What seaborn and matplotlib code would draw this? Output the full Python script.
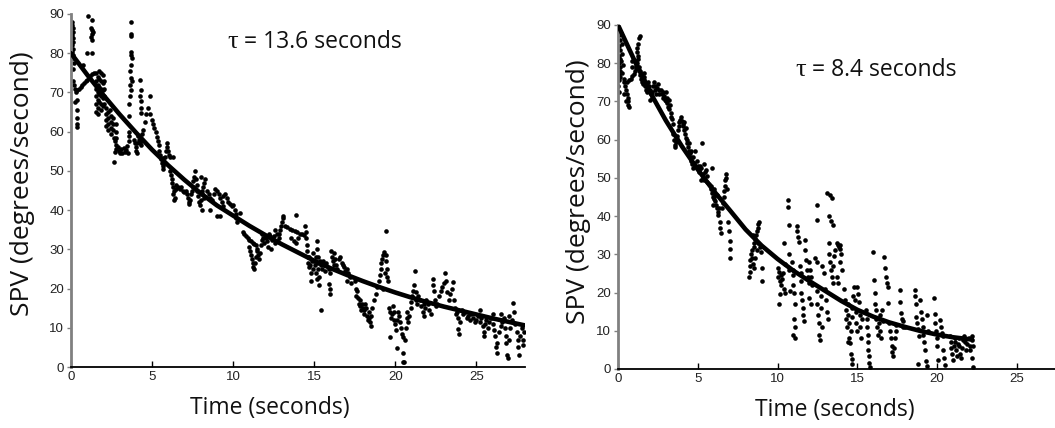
import matplotlib
matplotlib.use("Agg")
import matplotlib.pyplot as plt
import seaborn as sns
import pandas as pd

# ---------------- data ----------------
y_ticks = [0, 10, 20, 30, 40, 50, 60, 70, 80, 90]
x_ticks = [0, 5, 10, 15, 20, 25]
x_tick_labels = ["0", "5", "10", "15", "20", "25"]

left_tau_text = "= 13.6 seconds"
right_tau_text = "= 8.4 seconds"

left_fit_t = list(range(0, 29))
left_fit_v = [80, 74.5, 69.3, 64.4, 59.8, 55.4, 51.4, 47.7, 44.3, 41.2, 38.6, 36.0, 33.6, 31.3,
              29.2, 27.1, 25.2, 23.5, 21.9, 20.4, 19.0, 17.7, 16.5, 15.4, 14.4, 13.4, 12.4, 11.5, 10.6]

right_fit_t = [0, 1, 2, 3, 4, 5, 6, 7, 8, 9, 10, 11, 12, 13, 14, 15, 16, 17, 18, 19, 20, 21, 22.2]
right_fit_v = [90, 81.0, 72.5, 65.0, 58.3, 52.2, 46.6, 41.6, 36.5, 32.3, 28.8, 25.7, 23.0, 20.4,
               17.8, 15.5, 13.7, 12.2, 11.0, 9.9, 9.0, 8.3, 7.7]

left_samples = [
    (0.05, 88), (0.08, 87.2), (0.1, 86.4), (0.12, 85.5), (0.05, 84.6), (0.1, 83.8), (0.15, 82.9),
    (0.08, 82.0), (0.12, 81.2), (0.05, 80.4), (0.1, 79.6), (0.15, 78.8), (0.2, 77.6), (0.1, 76.0),
    (0.15, 73), (0.2, 72), (0.25, 71), (0.3, 70), (0.4, 70.5), (0.5, 71), (0.6, 71.4), (0.7, 71.8),
    (0.8, 72.3), (0.9, 72.8), (1.0, 73.2), (1.1, 73.7), (1.2, 74.1), (1.3, 74.6), (1.4, 75),
    (0.35, 68), (0.38, 65.5), (0.4, 63.5), (0.35, 62), (0.4, 61.3), (0.25, 67.5),
    (1.05, 89.5), (1.3, 88.5), (1.25, 86.5), (1.3, 86), (1.35, 85.5), (1.3, 85), (1.25, 84.2),
    (1.3, 83.4), (0.97, 80), (1.27, 80), (0.72, 77),
    (1.55, 75), (1.55, 73), (1.55, 71), (1.55, 69), (1.55, 67), (1.55, 65),
    (1.65, 74), (1.65, 72), (1.65, 70), (1.65, 68), (1.65, 66), (1.65, 64.5),
    (1.75, 75.5), (1.75, 73.5), (1.75, 71.5), (1.75, 69.5), (1.75, 67.5),
    (1.85, 75), (1.85, 73), (1.85, 71), (1.85, 69), (1.85, 67), (1.85, 65.5),
    (1.95, 74.5), (1.95, 72.5), (1.95, 70.5), (1.95, 68.5), (1.95, 66.5),
    (2.05, 73), (2.05, 71), (2.05, 69), (2.05, 67),
    (2.15, 66), (2.15, 64.5), (2.15, 63), (2.15, 61.5), (2.3, 65), (2.3, 63.5), (2.3, 62), (2.3, 60.5),
    (2.45, 64), (2.45, 62.5), (2.45, 61), (2.45, 59.5), (2.6, 63.5), (2.6, 62), (2.6, 60.5),
    (2.75, 62), (2.75, 60), (2.75, 58.5), (2.4, 65.6),
    (2.65, 58.5), (2.7, 57.5), (2.75, 56.5), (2.8, 55.5), (2.7, 54.8), (2.68, 52.3), (2.9, 56),
    (2.95, 55), (3.0, 54.6), (3.1, 55.5), (3.15, 54.6), (3.25, 55.8), (3.3, 54.7), (3.4, 55.2),
    (3.5, 54.5), (3.45, 56.3), (3.55, 57.5),
    (3.7, 88), (3.7, 85), (3.72, 84.5), (3.7, 80.4), (3.68, 79.6), (3.75, 78.8), (3.72, 77.1),
    (3.65, 75.4), (3.7, 73.6), (3.75, 72.8), (3.65, 71.9), (3.7, 70.7), (3.65, 69), (3.6, 67),
    (3.6, 64), (3.55, 60), (3.6, 59),
    (4.25, 73.2), (4.3, 70.7), (4.28, 69), (4.3, 67.8), (4.32, 66.1), (4.3, 64.8), (4.86, 69.0),
    (3.9, 58), (3.95, 57), (4.0, 56), (4.0, 55), (4.05, 54.5), (4.1, 57), (4.15, 59), (4.2, 58),
    (4.25, 57), (4.3, 56.5), (4.35, 58), (4.4, 59.4),
    (4.45, 60.5), (4.55, 62.5), (4.65, 64.5), (4.76, 66), (4.85, 64.5), (4.97, 63), (5.05, 62),
    (5.15, 61), (5.27, 60), (5.33, 58.7), (5.38, 57.5), (5.42, 56.5),
    (5.45, 55), (5.5, 54), (5.55, 53), (5.6, 52), (5.65, 51.2), (5.7, 50.5), (5.75, 52),
    (5.8, 53.5), (5.85, 55), (5.9, 57), (5.95, 56), (6.0, 55), (6.05, 54), (6.1, 53.6),
    (5.7, 53.3), (6.3, 53.6),
    (6.1, 50), (6.15, 49), (6.2, 48), (6.25, 47), (6.3, 46), (6.35, 45), (6.3, 44), (6.4, 43),
    (6.35, 42.5), (6.45, 46.5), (6.5, 45.5),
    (6.6, 46), (6.7, 45.5), (6.8, 46), (6.9, 45), (7.0, 44.5), (7.1, 45), (7.15, 44), (7.2, 43),
    (7.25, 42), (7.3, 41.5), (7.35, 42.5), (7.4, 44), (7.45, 45), (7.5, 46), (7.55, 47.5),
    (7.6, 48.5), (7.65, 50), (7.7, 48), (7.75, 46.5), (7.8, 45), (7.85, 43.5), (7.9, 42),
    (7.95, 41.2), (8.0, 42.5), (8.05, 44), (8.1, 45), (8.15, 46), (8.2, 47), (8.25, 48),
    (8.1, 40), (8.2, 43), (8.0, 48.5),
    (8.4, 45), (8.5, 44), (8.6, 43), (8.7, 42.5), (8.8, 44), (8.9, 45.5), (9.0, 45), (9.1, 44),
    (9.2, 43), (9.3, 42), (9.4, 43.5), (9.5, 44), (9.6, 43), (9.7, 42), (9.8, 41.5), (9.9, 41),
    (10.0, 41.2), (8.6, 40), (9.0, 38.6), (9.2, 38.6), (9.4, 41), (10.1, 40), (10.15, 39),
    (10.2, 38), (10.25, 37), (10.4, 39.2),
    (10.6, 34.5), (10.7, 34), (10.8, 33.5), (10.9, 33), (11.0, 32.5), (11.1, 32), (11.2, 31.6),
    (11.3, 31.3), (11.4, 31), (11.0, 30.5), (11.05, 29.5), (11.1, 28.5), (11.15, 27.5),
    (11.2, 26.5), (11.25, 25.5), (11.3, 25), (11.35, 26.5), (11.4, 28), (11.45, 29.5),
    (11.5, 30), (11.55, 28.5), (11.6, 27.5), (11.65, 29), (11.7, 31), (11.75, 32.5), (11.8, 34),
    (11.85, 33), (11.9, 31.5),
    (12.0, 33), (12.1, 32), (12.2, 34), (12.3, 33.5), (12.4, 32.5), (12.5, 33.5), (12.6, 35),
    (12.7, 34), (12.15, 30.5), (12.35, 30), (12.6, 31.5), (12.7, 32),
    (12.8, 33), (12.85, 34), (12.9, 35), (12.95, 36), (13.0, 37), (13.05, 38), (13.1, 38.5),
    (13.2, 36), (13.35, 35.7), (13.5, 35.3), (13.65, 35), (13.8, 34.6), (13.95, 34.3),
    (14.1, 34), (14.25, 33.8), (14.4, 33.6), (13.9, 38.8), (13.6, 33), (13.75, 32), (13.9, 31.5),
    (14.0, 33),
    (14.45, 36), (14.5, 34.5), (14.5, 33), (14.55, 31), (14.55, 29.5), (14.6, 28), (14.6, 26.5),
    (14.65, 25.5),
    (14.7, 28), (14.75, 26), (14.8, 24), (14.8, 22), (14.85, 27), (14.9, 29), (14.95, 25),
    (15.0, 27), (15.05, 26), (15.1, 28), (15.1, 24), (15.15, 22.5), (15.2, 32), (15.2, 30),
    (15.22, 28), (15.25, 26.5), (15.25, 25), (15.3, 23), (15.3, 21), (15.35, 27), (15.4, 14.5),
    (15.45, 26), (15.5, 25), (15.55, 27), (15.6, 26), (15.65, 24.5), (15.7, 26.5),
    (15.9, 25), (16.0, 24), (16.05, 29.5), (16.1, 28), (16.15, 27), (16.2, 26), (16.25, 29),
    (16.3, 27.5), (16.35, 26), (16.4, 25), (15.9, 21.2), (15.95, 19.8), (16.0, 18.6),
    (16.5, 27.5), (16.6, 28), (16.7, 26.5), (16.8, 26), (16.85, 25.5), (16.9, 24.5), (17.0, 25),
    (17.1, 24), (17.05, 22), (17.2, 23), (17.3, 21.5),
    (17.5, 22), (17.55, 20), (17.6, 18), (17.65, 19.5), (17.7, 17.5), (17.75, 16), (17.8, 17),
    (17.85, 15.5), (17.9, 14.5), (17.95, 16), (18.0, 15), (18.05, 13.5), (18.1, 14.5),
    (18.15, 16), (18.2, 15), (18.25, 13), (18.3, 12), (18.35, 14), (18.4, 12.5), (18.45, 11.5),
    (18.5, 10.5), (18.5, 13), (18.55, 15),
    (18.7, 17), (18.8, 18.5), (18.9, 20.5), (19.0, 22), (19.05, 23.5), (19.1, 25), (19.15, 26.5),
    (19.2, 27.5), (19.25, 28.5), (19.3, 29.4), (19.4, 34.6), (19.45, 27), (19.5, 25),
    (19.5, 23), (19.55, 22), (19.25, 20), (19.35, 24), (19.45, 28.5),
    (19.6, 15), (19.7, 14), (19.75, 12.5), (19.8, 13.5), (19.85, 15.5), (19.9, 14), (19.95, 12),
    (19.7, 7.6), (20.0, 11), (20.05, 9.5), (20.1, 12), (20.15, 14), (20.1, 4.8), (20.2, 13),
    (20.3, 11.5), (20.35, 10), (20.4, 8.5), (20.45, 3.5), (20.5, 1.3), (20.55, 1.3), (20.5, 7.7),
    (20.6, 6.8), (20.65, 10), (20.7, 12.5), (20.75, 14), (20.8, 11.5), (20.85, 13),
    (20.95, 15), (21.0, 16.5), (21.05, 18), (21.1, 19.5), (21.15, 21), (21.2, 24.5), (21.25, 19),
    (21.3, 17), (21.35, 16), (21.4, 18), (21.5, 17), (21.6, 15.5), (21.7, 14), (21.75, 16),
    (21.8, 13), (21.85, 15), (21.9, 17), (22.0, 16), (22.1, 14.5), (22.2, 13.5),
    (22.3, 21), (22.35, 22.5), (22.4, 19.5), (22.45, 17), (22.5, 15.5), (22.6, 16), (22.7, 18),
    (22.8, 19.5), (22.9, 20.5), (23.0, 21.5), (23.05, 23.9), (23.1, 22), (23.2, 19), (23.3, 17),
    (23.4, 18.5), (23.5, 20), (23.55, 21.8), (23.6, 17), (23.7, 15), (23.75, 13.5),
    (23.8, 14), (23.9, 12.5), (24.0, 11.5), (23.9, 9.8), (23.95, 8.5), (24.1, 14.5), (24.2, 13.5),
    (24.3, 14), (24.4, 12.5), (24.5, 13), (24.6, 12), (24.7, 13.5), (24.8, 12.5), (24.9, 11.5),
    (25.0, 12),
    (25.1, 13), (25.2, 11.5), (25.3, 12.5), (25.4, 10.5), (25.45, 9), (25.5, 8), (25.55, 11),
    (25.6, 12), (25.7, 10), (25.8, 11.5), (25.9, 12.5), (26.0, 11), (26.1, 9.5), (26.15, 8),
    (26.2, 5), (26.25, 3.5), (26.3, 6), (26.4, 9), (26.5, 10.5), (26.6, 11.5), (26.7, 12.5),
    (26.75, 10), (26.8, 8), (26.85, 6), (26.9, 3), (26.95, 2.3), (27.0, 7), (27.1, 10), (27.2, 12),
    (27.25, 16.3), (27.3, 14), (27.4, 11), (27.5, 9), (27.55, 7), (27.6, 5), (27.65, 3),
    (27.7, 8), (27.8, 10), (27.85, 7), (27.9, 5.5), (27.95, 9), (26.0, 13.5), (26.5, 13.5),
    (27.0, 13), (25.2, 14.5),
]

right_samples = [
    (0.05, 89), (0.08, 87.5), (0.1, 86), (0.05, 84.5), (0.12, 83.5), (0.08, 82), (0.15, 81),
    (0.05, 80), (0.1, 79), (0.12, 78), (0.05, 77), (0.15, 76.5), (0.08, 75.5), (0.02, 74),
    (0.05, 72.5), (0.2, 88), (0.22, 85), (0.25, 82.5), (0.2, 80.5), (0.3, 79.5), (0.25, 77.5),
    (0.35, 76), (0.4, 75), (0.45, 74), (0.5, 73), (0.55, 72), (0.6, 71), (0.62, 70), (0.65, 69),
    (0.7, 68.5), (0.5, 70), (0.55, 75), (0.4, 72),
    (0.7, 75.5), (0.8, 76), (0.9, 76.7), (1.0, 77.3), (1.05, 78), (1.1, 78.7), (1.15, 79.4),
    (1.2, 80), (1.25, 81), (1.25, 82), (1.2, 83), (1.22, 84), (1.28, 85), (1.3, 86.5), (1.35, 87),
    (1.15, 80.5), (1.3, 79), (1.35, 78), (1.4, 77), (0.9, 79), (0.85, 80.5),
    (1.45, 76), (1.5, 75), (1.55, 74.5), (1.6, 76.5), (1.65, 75.5), (1.7, 74), (1.75, 73),
    (1.8, 72.5), (1.85, 74), (1.9, 75), (1.95, 74), (2.0, 73), (2.05, 72), (2.1, 71),
    (2.15, 72.5), (2.2, 74), (2.25, 75), (2.3, 74), (2.35, 73), (2.4, 72), (2.45, 73.5),
    (2.5, 74.5), (2.55, 73), (2.6, 72), (1.65, 77.5), (2.0, 70.5),
    (2.7, 73), (2.75, 72), (2.8, 71), (2.85, 72.5), (2.9, 71.5), (2.95, 70.5), (3.0, 70),
    (3.05, 71), (3.1, 69.5), (3.15, 68.5), (3.2, 68), (3.25, 69), (3.3, 67), (3.35, 66),
    (3.4, 65.5), (3.0, 72.5), (3.2, 70.5), (3.45, 64),
    (3.55, 58.5), (3.6, 58), (3.65, 59.5), (3.7, 61), (3.75, 62.5), (3.8, 63.5), (3.85, 64.5),
    (3.9, 65.2), (3.95, 66), (3.5, 60), (3.45, 61.5),
    (4.0, 65), (4.05, 64), (4.1, 63.5), (4.15, 62.5), (4.2, 61.5), (4.25, 60.5), (4.3, 60),
    (4.35, 59), (4.4, 58), (4.45, 57), (4.5, 56.5), (4.55, 55.5), (4.6, 54.5), (4.65, 53.5),
    (4.7, 52.5), (4.45, 59), (4.6, 57), (4.7, 55.5), (4.75, 54), (4.8, 57), (5.25, 59.1),
    (4.25, 63), (4.15, 64.5),
    (4.95, 54.5), (5.0, 53), (5.05, 52), (5.1, 51.5), (5.15, 53), (5.2, 52.5), (5.3, 51),
    (5.35, 50), (5.4, 49.5), (5.45, 51.5), (5.5, 52), (5.55, 50.5), (5.6, 49), (5.7, 48.5),
    (5.9, 52.6), (5.2, 49.5), (5.4, 53.5),
    (5.8, 48), (5.85, 47), (5.9, 46), (5.95, 45), (6.0, 44.5), (6.05, 45.5), (6.1, 44),
    (6.15, 43), (6.2, 42), (6.25, 41), (6.3, 40.3), (6.35, 42), (6.4, 38.5), (6.42, 37),
    (6.45, 35.5), (6.0, 47), (6.2, 45.5), (5.95, 43),
    (6.55, 42), (6.6, 43.5), (6.63, 45), (6.66, 46.5), (6.7, 48), (6.73, 49.5), (6.76, 51),
    (6.8, 50), (6.85, 47), (6.9, 38.5), (6.95, 36), (7.0, 33.5), (7.0, 31.5), (7.02, 29),
    (8.2, 24), (8.25, 25.5), (8.3, 27), (8.3, 28.5), (8.35, 30), (8.4, 31), (8.4, 29), (8.45, 27.5),
    (8.5, 32), (8.55, 33), (8.6, 34), (8.65, 35), (8.7, 36), (8.75, 37), (8.8, 38), (8.85, 38.5),
    (8.8, 33), (8.7, 31), (8.6, 29), (8.55, 26.5), (8.9, 32), (8.95, 30.5), (9.0, 26.5),
    (9.05, 23), (8.45, 35),
    (10.0, 26.5), (10.05, 24), (10.1, 25.5), (10.15, 23), (10.2, 22), (10.25, 24.5), (10.3, 23.5),
    (10.35, 25), (10.4, 21), (10.5, 20), (10.1, 17), (10.15, 19.5), (10.4, 33), (10.5, 27.5),
    (10.65, 44.2), (10.65, 42.4), (10.7, 37.6), (10.7, 30), (10.8, 20.5), (10.75, 26),
    (10.9, 28), (10.95, 26), (11.0, 24.5), (11.0, 22), (11.05, 20), (11.1, 17), (11.05, 13),
    (11.1, 11), (11.0, 9), (11.1, 8), (11.2, 37.5), (11.25, 36), (11.3, 34.5), (11.35, 33.2),
    (11.4, 27), (11.45, 25), (11.5, 23), (11.5, 20), (11.55, 18), (11.6, 16), (11.6, 14),
    (11.65, 12.5), (11.7, 33.8), (11.75, 31), (11.8, 28.5), (11.85, 26), (11.9, 24),
    (11.95, 22.5), (12.0, 28), (12.05, 26), (12.1, 24), (12.15, 22), (12.0, 18.5), (12.1, 17),
    (12.45, 43), (12.45, 39), (13.1, 46), (13.3, 45.5), (13.4, 44.7), (13.2, 39.9), (13.35, 38.8),
    (13.45, 37.7), (12.5, 20.5), (12.5, 17), (12.55, 14), (12.6, 12), (12.6, 9), (12.65, 7.6),
    (12.7, 19), (12.75, 16), (12.8, 11), (12.8, 27), (12.9, 25), (13.0, 21), (13.05, 18),
    (13.1, 15), (13.15, 13), (12.35, 29), (12.45, 28),
    (13.2, 33), (13.25, 30), (13.3, 28), (13.35, 26), (13.4, 24), (13.45, 22.5), (13.5, 27),
    (13.55, 29.5), (13.6, 31), (13.7, 33), (13.8, 32.5), (13.85, 32), (13.9, 31.5), (13.95, 32.5),
    (14.0, 30), (13.7, 24), (13.8, 22.5), (13.9, 28), (14.05, 26),
    (14.2, 21), (14.25, 18), (14.3, 15.5), (14.3, 13), (14.35, 11), (14.4, 17), (14.45, 14),
    (14.5, 12), (14.5, 8), (14.55, 6.7), (14.6, 10), (14.65, 13.5), (14.7, 16), (14.75, 19),
    (14.8, 21.5), (14.85, 18), (14.9, 15), (14.95, 12), (15.0, 10), (15.0, 21.5), (15.05, 19.5),
    (15.1, 17.5), (15.15, 14), (15.2, 11), (15.25, 8), (14.6, 4), (14.65, 2.5), (14.7, 1.4),
    (15.3, 13), (14.4, 7),
    (15.55, 15.5), (15.6, 13), (15.62, 11), (15.65, 9), (15.68, 7), (15.7, 5), (15.72, 3.5),
    (15.75, 1.5), (15.78, 0.4), (16.0, 30.7), (16.05, 23.3), (16.1, 20), (16.1, 17), (16.15, 15.5),
    (16.2, 13), (16.25, 11), (16.3, 9), (16.35, 12), (16.4, 14), (16.45, 10), (16.5, 8),
    (16.55, 15.5), (16.6, 12.5),
    (16.7, 29.4), (16.75, 26.3), (16.8, 24), (16.85, 22.5), (16.9, 21.5), (16.95, 17.2),
    (17.0, 12), (17.05, 10), (17.1, 8), (17.15, 6), (17.2, 4.5), (17.25, 3.3), (17.3, 5.5),
    (17.35, 8), (17.4, 10), (17.45, 11.5),
    (17.65, 20.7), (17.7, 17.6), (17.75, 14.6), (17.8, 13), (17.85, 11.1), (17.9, 12.5), (18.0, 11),
    (18.6, 20.7), (18.65, 19), (18.7, 17), (18.7, 13.7), (18.75, 12), (18.8, 10.5), (18.85, 8.5),
    (18.8, 1.4), (18.95, 18), (19.0, 15), (19.05, 13), (19.1, 11), (19.15, 9), (19.2, 7),
    (19.25, 5), (19.3, 2.2), (19.35, 0.8), (19.4, 14), (19.45, 10),
    (19.8, 18.5), (19.85, 14.5), (19.9, 12), (19.95, 10), (20.0, 8), (20.0, 6), (20.05, 2.4),
    (20.2, 12.8), (20.25, 11), (20.3, 9.5), (20.35, 8.5), (20.4, 5), (20.45, 3), (20.5, 1),
    (20.8, 8.5), (20.85, 7), (20.9, 5.5), (20.95, 4), (21.0, 2.4), (21.05, 6), (21.1, 8),
    (21.15, 7), (21.2, 5), (21.25, 3.5), (21.3, 6.5), (21.35, 8), (21.4, 6), (21.45, 4),
    (21.5, 3), (21.55, 5.5), (21.6, 7.5),
    (21.7, 8.5), (21.75, 7), (21.8, 5), (21.9, 6.5), (22.0, 8), (22.05, 6), (22.1, 5),
    (22.2, 8.5), (22.2, 7.5), (22.25, 6), (22.2, 3), (22.25, 0.5),
]

# ---------------- figure ----------------
sns.set_theme(style="white")
plt.rcParams["font.family"] = ["Liberation Sans", "DejaVu Sans"]

LABEL_FONT = ["Open Sans", "DejaVu Sans"]

fig = plt.figure(figsize=(10.55, 4.28), dpi=100)
axL = fig.add_axes([0.0673, 0.1425, 0.4303, 0.8248])
axR = fig.add_axes([0.5858, 0.1379, 0.4142, 0.8037])

panels = [
    (axL, left_samples, left_fit_t, left_fit_v, 28.0, (9.67, 82.9), left_tau_text,
     (-0.106, 0.52), (0.438, -0.116)),
    (axR, right_samples, right_fit_t, right_fit_v, 27.4, (11.1, 78.3), right_tau_text,
     (-0.090, 0.515), (0.497, -0.119)),
]

for ax, samples, ft, fv, xmax, tau_pos, tau_text, ylab_pos, xlab_pos in panels:
    df = pd.DataFrame(samples, columns=["t", "v"])
    fit = pd.DataFrame({"t": ft, "v": fv})
    sns.scatterplot(data=df, x="t", y="v", ax=ax, color="black", s=11,
                    linewidth=0, legend=False, zorder=2)
    sns.lineplot(data=fit, x="t", y="v", ax=ax, color="black", lw=3.3,
                 estimator=None, zorder=3)
    ax.set_xlim(0, xmax)
    ax.set_ylim(0, 90)
    ax.set_yticks(y_ticks)
    ax.set_yticklabels([str(y) for y in y_ticks])
    ax.set_xticks(x_ticks)
    ax.set_xticklabels(x_tick_labels)
    for side in ["top", "right"]:
        ax.spines[side].set_visible(False)
    ax.spines["left"].set_color("#808080")
    ax.spines["left"].set_linewidth(2.0)
    ax.spines["bottom"].set_color("black")
    ax.spines["bottom"].set_linewidth(1.3)
    ax.tick_params(axis="y", direction="out", length=3, width=1, color="#808080",
                   labelsize=9.5, labelcolor="#222222", pad=2, left=True)
    ax.tick_params(axis="x", direction="in", length=4, width=1, color="black",
                   labelsize=9.5, labelcolor="#222222", pad=3, bottom=True)
    ax.set_ylabel("SPV (degrees/second)", fontsize=19, family=LABEL_FONT,
                  color="#111111", va="center")
    ax.yaxis.set_label_coords(*ylab_pos)
    ax.set_xlabel("Time (seconds)", fontsize=16.5, family=LABEL_FONT,
                  color="#111111", va="center")
    ax.xaxis.set_label_coords(*xlab_pos)
    tau = ax.text(tau_pos[0], tau_pos[1], "τ", fontsize=19,
                  family=["Liberation Serif", "DejaVu Serif"], color="#111111",
                  va="center", ha="left")
    ax.annotate(" " + tau_text, xy=(1.0, 0.5), xycoords=tau, va="center", ha="left",
                fontsize=16.5, family=LABEL_FONT, color="#111111")

fig.savefig("out.png", dpi=100)
